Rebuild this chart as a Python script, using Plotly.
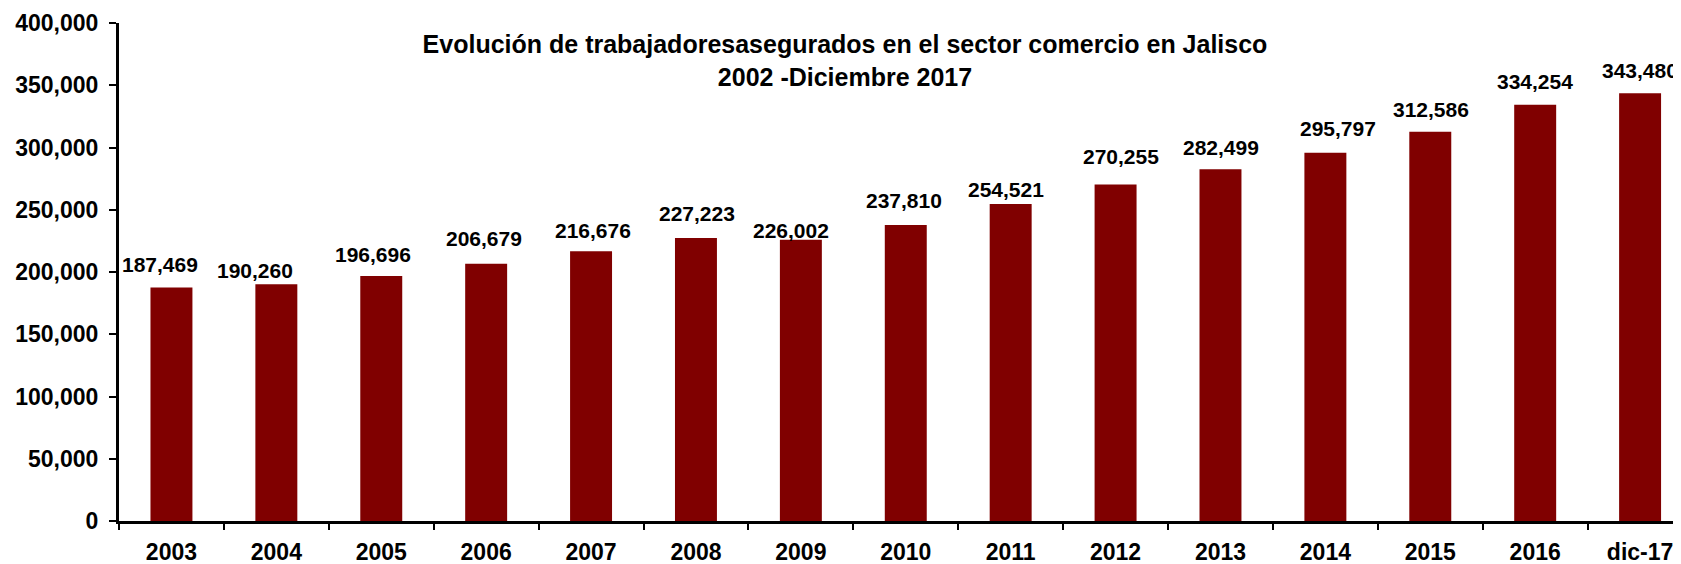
import plotly.graph_objects as go

categories = ["2003", "2004", "2005", "2006", "2007", "2008", "2009", "2010",
              "2011", "2012", "2013", "2014", "2015", "2016", "dic-17"]
values = [187469, 190260, 196696, 206679, 216676, 227223, 226002, 237810,
          254521, 270255, 282499, 295797, 312586, 334254, 343480]

# fine placement of the value labels (pixels), as they were moved in the original
label_dx = [-11.5, -21, -8, -2.5, 2, 1, -10, -2, -5, 5, 1, 13, 1, 0, 0]
label_gap = [15.3, 5.7, 14.3, 17.3, 13.7, 17, 1.7, 17, 7, 21, 14.7, 17, 15, 15.7, 15]

y_ticks = [0, 50000, 100000, 150000, 200000, 250000, 300000, 350000, 400000]
y_tick_text = ["0", "50,000", "100,000", "150,000", "200,000", "250,000",
               "300,000", "350,000", "400,000"]

title_text = ("Evolución de trabajadoresasegurados en el sector comercio en Jalisco"
              "<br>2002 -Diciembre 2017")

FONT = "Liberation Sans, Arial, sans-serif"
# the page body adds an 8px offset, so the figure is 8px smaller than the window
W, H = 1673, 556

fig = go.Figure(
    go.Bar(
        x=categories,
        y=values,
        width=0.4,
        marker=dict(color="#800000", line=dict(width=0)),
        hoverinfo="x+y",
    )
)

annotations = []
for i, (v, dx, g) in enumerate(zip(values, label_dx, label_gap)):
    annotations.append(dict(
        x=i, y=v, xref="x", yref="y",
        text=f"{v:,}",
        showarrow=False,
        xanchor="center", yanchor="bottom",
        xshift=dx, yshift=g - 6,
        font=dict(family=FONT, size=21, color="black", weight="bold"),
    ))

fig.update_layout(
    width=W, height=H, autosize=False,
    margin=dict(l=111, r=0, t=15, b=43),
    paper_bgcolor="white", plot_bgcolor="white",
    showlegend=False,
    title=dict(
        text=title_text,
        x=837 / W, xanchor="center", xref="container",
        y=1 - 45 / H, yanchor="top", yref="container",
        font=dict(family=FONT, size=25, color="black", weight="bold"),
    ),
    annotations=annotations,
    xaxis=dict(
        type="category",
        range=[-0.5, 14.39],
        showline=True, linewidth=3, linecolor="black",
        ticks="outside", tickson="boundaries", ticklen=6, tickwidth=2, tickcolor="black",
        ticklabelstandoff=8,
        showgrid=False, zeroline=False,
        tickfont=dict(family=FONT, size=23, color="black", weight="bold"),
    ),
    yaxis=dict(
        range=[0, 400000],
        tickvals=y_ticks, ticktext=y_tick_text,
        showline=True, linewidth=3, linecolor="black",
        ticks="outside", ticklen=7, tickwidth=2, tickcolor="black",
        ticklabelstandoff=6,
        showgrid=False, zeroline=False,
        tickfont=dict(family=FONT, size=23, color="black", weight="bold"),
    ),
)

fig.write_html("out.html")
